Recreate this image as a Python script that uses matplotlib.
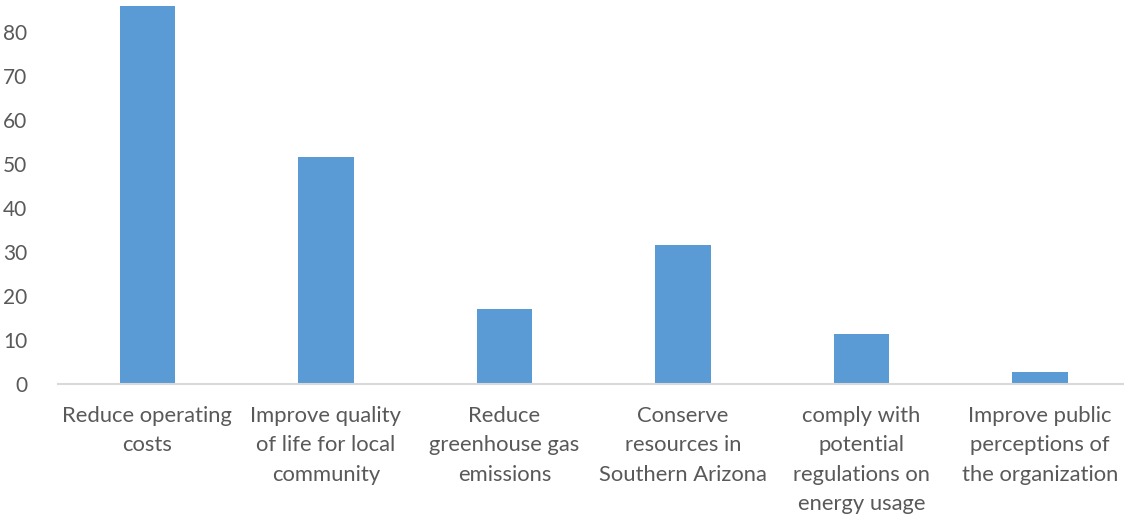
import matplotlib.pyplot as plt
import numpy as np

categories = ['Reduce operating\ncosts',
              'Improve quality\nof life for local\ncommunity',
              'Reduce\ngreenhouse gas\nemissions',
              'Conserve\nresources in\nSouthern Arizona',
              'comply with\npotential\nregulations on\nenergy usage',
              'Improve public\nperceptions of\nthe organization']
values = [86, 51.5, 17.0, 31.5, 11.4, 2.8]
yticks = [0, 10, 20, 30, 40, 50, 60, 70, 80]

plt.rcParams['font.family'] = ['Lato', 'DejaVu Sans']
grey = '#595959'

fig = plt.figure(figsize=(11.24, 5.18), dpi=100)
ax = fig.add_axes([58 / 1124, 134 / 518, 1 - 58 / 1124, (384 - 6) / 518])

x = np.arange(len(categories))
ax.bar(x, values, width=0.31, color='#5b9bd5', zorder=2)

ax.set_xlim(-0.5, 5.47)
ax.set_ylim(0, 85.9)
ax.set_yticks(yticks)
ax.set_xticks(x)
ax.set_xticklabels(categories, linespacing=1.6, va='top', fontsize=15.8)

for s in ['top', 'right', 'left']:
    ax.spines[s].set_visible(False)
ax.spines['bottom'].set_color('#d9d9d9')
ax.spines['bottom'].set_linewidth(1.5)
ax.spines['bottom'].set_zorder(3)

ax.tick_params(axis='both', length=0, colors=grey)
ax.tick_params(axis='y', pad=22, labelsize=15)
ax.tick_params(axis='x', pad=15.5)

fig.savefig('out.png', dpi=100)
